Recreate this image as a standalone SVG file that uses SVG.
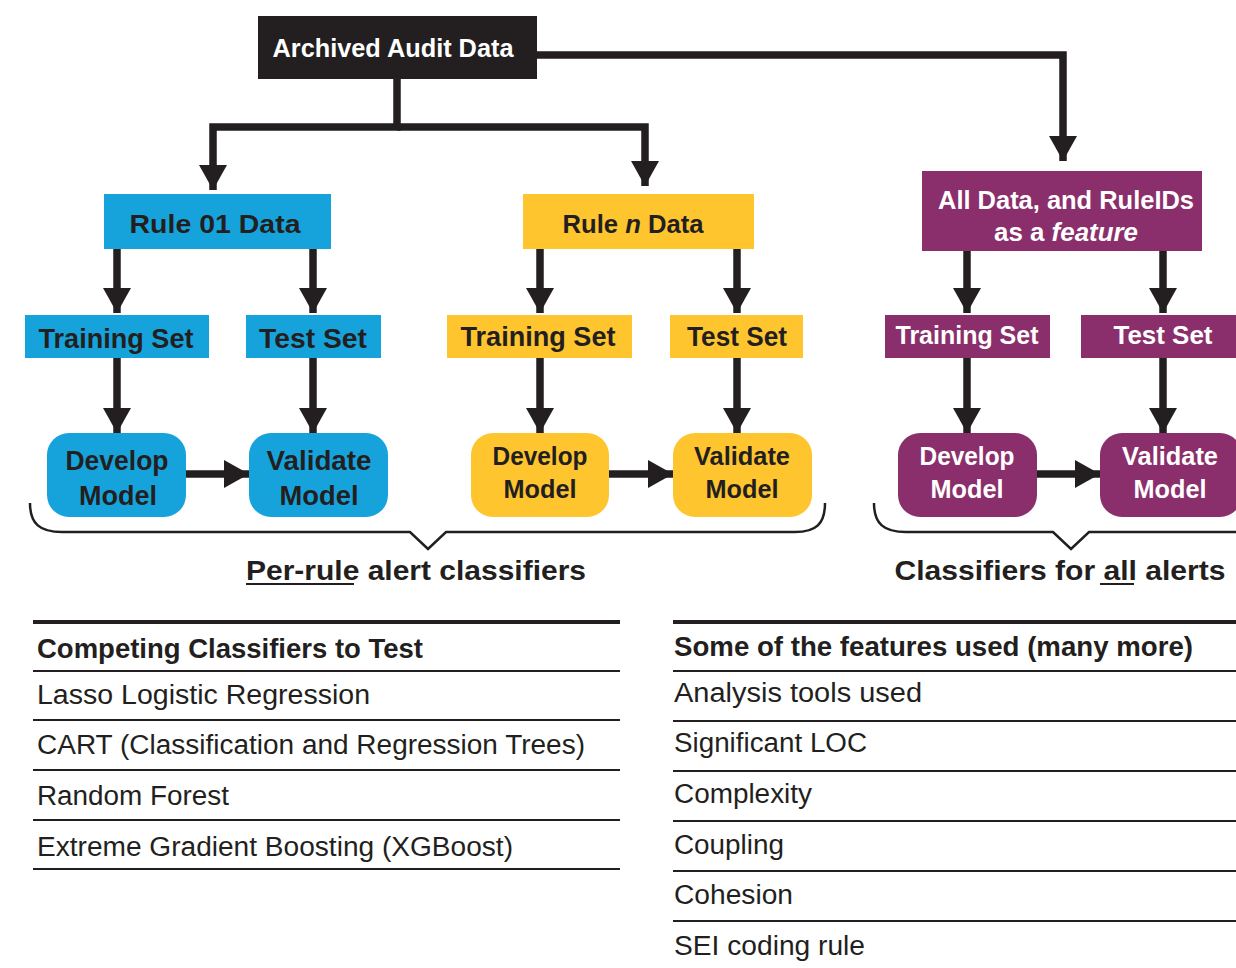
<svg xmlns="http://www.w3.org/2000/svg" width="1236" height="968" viewBox="0 0 1236 968">
<style>
.t{font-family:"Liberation Sans",Arial,sans-serif;font-weight:bold;text-anchor:middle}
.w{fill:#ffffff}
.k{fill:#231f20}
.b{fill:#16a3dc}
.y{fill:#ffc52f}
.p{fill:#8a2f6b}
.c{fill:none;stroke:#231f20;stroke-width:7.5;marker-end:url(#ah)}
.br{fill:none;stroke:#231f20;stroke-width:2.5}
.h{font-family:"Liberation Sans",Arial,sans-serif;font-weight:bold;font-size:27px;fill:#231f20}
.r{font-family:"Liberation Sans",Arial,sans-serif;font-size:27px;fill:#231f20}
.tl{stroke:#231f20;stroke-width:2}
.tt{stroke:#231f20;stroke-width:4}
</style>
<defs>
<marker id="ah" markerUnits="userSpaceOnUse" markerWidth="25" markerHeight="28" refX="25" refY="14" orient="auto" viewBox="0 0 25 28">
<path d="M0,0 L25,14 L0,28 Z" fill="#231f20"/>
</marker>
</defs>
<rect width="1236" height="968" fill="#ffffff"/>

<g id="connectors">
<path class="c" d="M397,79 V127 H213 V190"/>
<path class="c" d="M397,127 H645 V186"/>
<path class="c" d="M537,55 H1063 V161"/>
<path class="c" d="M117,249 V313"/>
<path class="c" d="M313,249 V313"/>
<path class="c" d="M540,249 V313"/>
<path class="c" d="M737,249 V313"/>
<path class="c" d="M967,251 V313"/>
<path class="c" d="M1163,251 V313"/>
<path class="c" d="M117,358 V433"/>
<path class="c" d="M313,358 V433"/>
<path class="c" d="M540,358 V433"/>
<path class="c" d="M737,358 V433"/>
<path class="c" d="M967,358 V433"/>
<path class="c" d="M1163,358 V433"/>
<path class="c" d="M186,474 H249"/>
<path class="c" d="M609,474 H673"/>
<path class="c" d="M1037,474 H1100"/>
</g>

<g id="archived">
<rect x="258" y="16" width="279" height="63" class="k"/>
<text class="t w" x="393" y="57" font-size="26" textLength="241" lengthAdjust="spacingAndGlyphs">Archived Audit Data</text>
</g>

<g id="rule01">
<rect x="104" y="194" width="227" height="55" class="b"/>
<text class="t k" x="215" y="233" font-size="26" textLength="171" lengthAdjust="spacingAndGlyphs">Rule 01 Data</text>
</g>
<g id="rulen">
<rect x="523" y="194" width="231" height="55" class="y"/>
<text class="t k" x="633" y="233" font-size="25" textLength="141" lengthAdjust="spacingAndGlyphs">Rule <tspan font-style="italic">n</tspan> Data</text>
</g>
<g id="alldata">
<rect x="922" y="171" width="280" height="80" class="p"/>
<text class="t w" x="1066" y="209" font-size="25" textLength="256" lengthAdjust="spacingAndGlyphs">All Data, and RuleIDs</text>
<text class="t w" x="1066" y="241" font-size="25" textLength="144" lengthAdjust="spacingAndGlyphs">as a <tspan font-style="italic">feature</tspan></text>
</g>

<g id="train1">
<rect x="25" y="315" width="184" height="43" class="b"/>
<text class="t k" x="116" y="348" font-size="27" textLength="155" lengthAdjust="spacingAndGlyphs">Training Set</text>
</g>
<g id="test1">
<rect x="246" y="315" width="135" height="43" class="b"/>
<text class="t k" x="313" y="348" font-size="27" textLength="108" lengthAdjust="spacingAndGlyphs">Test Set</text>
</g>
<g id="train2">
<rect x="447" y="315" width="185" height="43" class="y"/>
<text class="t k" x="538" y="346" font-size="27" textLength="155" lengthAdjust="spacingAndGlyphs">Training Set</text>
</g>
<g id="test2">
<rect x="670" y="315" width="133" height="43" class="y"/>
<text class="t k" x="737" y="346" font-size="27" textLength="100" lengthAdjust="spacingAndGlyphs">Test Set</text>
</g>
<g id="train3">
<rect x="885" y="315" width="165" height="43" class="p"/>
<text class="t w" x="967" y="344" font-size="25" textLength="143" lengthAdjust="spacingAndGlyphs">Training Set</text>
</g>
<g id="test3">
<rect x="1081" y="315" width="160" height="43" class="p"/>
<text class="t w" x="1163" y="344" font-size="25" textLength="99" lengthAdjust="spacingAndGlyphs">Test Set</text>
</g>

<g id="develop1">
<rect x="47" y="433" width="139" height="84" rx="22" class="b"/>
<text class="t k" x="117" y="470" font-size="27" textLength="103" lengthAdjust="spacingAndGlyphs">Develop</text>
<text class="t k" x="118" y="505" font-size="27" textLength="78" lengthAdjust="spacingAndGlyphs">Model</text>
</g>
<g id="validate1">
<rect x="249" y="433" width="139" height="84" rx="22" class="b"/>
<text class="t k" x="319" y="470" font-size="27" textLength="105" lengthAdjust="spacingAndGlyphs">Validate</text>
<text class="t k" x="319" y="505" font-size="27" textLength="79" lengthAdjust="spacingAndGlyphs">Model</text>
</g>
<g id="develop2">
<rect x="471" y="433" width="138" height="84" rx="22" class="y"/>
<text class="t k" x="540" y="465" font-size="26" textLength="95" lengthAdjust="spacingAndGlyphs">Develop</text>
<text class="t k" x="540" y="498" font-size="26" textLength="73" lengthAdjust="spacingAndGlyphs">Model</text>
</g>
<g id="validate2">
<rect x="673" y="433" width="139" height="84" rx="22" class="y"/>
<text class="t k" x="742" y="465" font-size="26" textLength="96" lengthAdjust="spacingAndGlyphs">Validate</text>
<text class="t k" x="742" y="498" font-size="26" textLength="73" lengthAdjust="spacingAndGlyphs">Model</text>
</g>
<g id="develop3">
<rect x="898" y="433" width="139" height="84" rx="22" class="p"/>
<text class="t w" x="967" y="465" font-size="26" textLength="95" lengthAdjust="spacingAndGlyphs">Develop</text>
<text class="t w" x="967" y="498" font-size="26" textLength="73" lengthAdjust="spacingAndGlyphs">Model</text>
</g>
<g id="validate3">
<rect x="1100" y="433" width="142" height="84" rx="22" class="p"/>
<text class="t w" x="1170" y="465" font-size="26" textLength="96" lengthAdjust="spacingAndGlyphs">Validate</text>
<text class="t w" x="1170" y="498" font-size="26" textLength="73" lengthAdjust="spacingAndGlyphs">Model</text>
</g>

<g id="brace-left">
<path class="br" d="M30,503 C30,524 40,532 62,532 H410 L428,549 L446,532 H795 C816,532 825,524 825,503"/>
<text class="t k" x="416" y="580" font-size="28" textLength="340" lengthAdjust="spacingAndGlyphs">Per-rule alert classifiers</text>
<line x1="246" y1="584" x2="354" y2="584" stroke="#231f20" stroke-width="2"/>
</g>
<g id="brace-right">
<path class="br" d="M874,503 C874,524 884,532 906,532 H1053 L1071,549 L1089,532 H1240"/>
<text class="t k" x="1060" y="580" font-size="28" textLength="331" lengthAdjust="spacingAndGlyphs">Classifiers for all alerts</text>
<line x1="1100" y1="584" x2="1134" y2="584" stroke="#231f20" stroke-width="2"/>
</g>

<g id="table-classifiers">
<line class="tt" x1="33" y1="622" x2="620" y2="622"/>
<text class="h" x="37" y="658" textLength="386" lengthAdjust="spacingAndGlyphs">Competing Classifiers to Test</text>
<line class="tl" x1="33" y1="671" x2="620" y2="671"/>
<text class="r" x="37" y="704" textLength="333" lengthAdjust="spacingAndGlyphs">Lasso Logistic Regression</text>
<line class="tl" x1="33" y1="720" x2="620" y2="720"/>
<text class="r" x="37" y="754" textLength="548" lengthAdjust="spacingAndGlyphs">CART (Classification and Regression Trees)</text>
<line class="tl" x1="33" y1="770" x2="620" y2="770"/>
<text class="r" x="37" y="805" textLength="192" lengthAdjust="spacingAndGlyphs">Random Forest</text>
<line class="tl" x1="33" y1="820" x2="620" y2="820"/>
<text class="r" x="37" y="856" textLength="476" lengthAdjust="spacingAndGlyphs">Extreme Gradient Boosting (XGBoost)</text>
<line class="tl" x1="33" y1="869" x2="620" y2="869"/>
</g>

<g id="table-features">
<line class="tt" x1="673" y1="622" x2="1236" y2="622"/>
<text class="h" x="674" y="656" textLength="519" lengthAdjust="spacingAndGlyphs">Some of the features used (many more)</text>
<line class="tl" x1="673" y1="671" x2="1236" y2="671"/>
<text class="r" x="674" y="702" textLength="248" lengthAdjust="spacingAndGlyphs">Analysis tools used</text>
<line class="tl" x1="673" y1="721" x2="1236" y2="721"/>
<text class="r" x="674" y="752" textLength="193" lengthAdjust="spacingAndGlyphs">Significant LOC</text>
<line class="tl" x1="673" y1="771" x2="1236" y2="771"/>
<text class="r" x="674" y="803" textLength="138" lengthAdjust="spacingAndGlyphs">Complexity</text>
<line class="tl" x1="673" y1="821" x2="1236" y2="821"/>
<text class="r" x="674" y="854" textLength="110" lengthAdjust="spacingAndGlyphs">Coupling</text>
<line class="tl" x1="673" y1="871" x2="1236" y2="871"/>
<text class="r" x="674" y="904" textLength="119" lengthAdjust="spacingAndGlyphs">Cohesion</text>
<line class="tl" x1="673" y1="921" x2="1236" y2="921"/>
<text class="r" x="674" y="955" textLength="191" lengthAdjust="spacingAndGlyphs">SEI coding rule</text>
</g>
</svg>
